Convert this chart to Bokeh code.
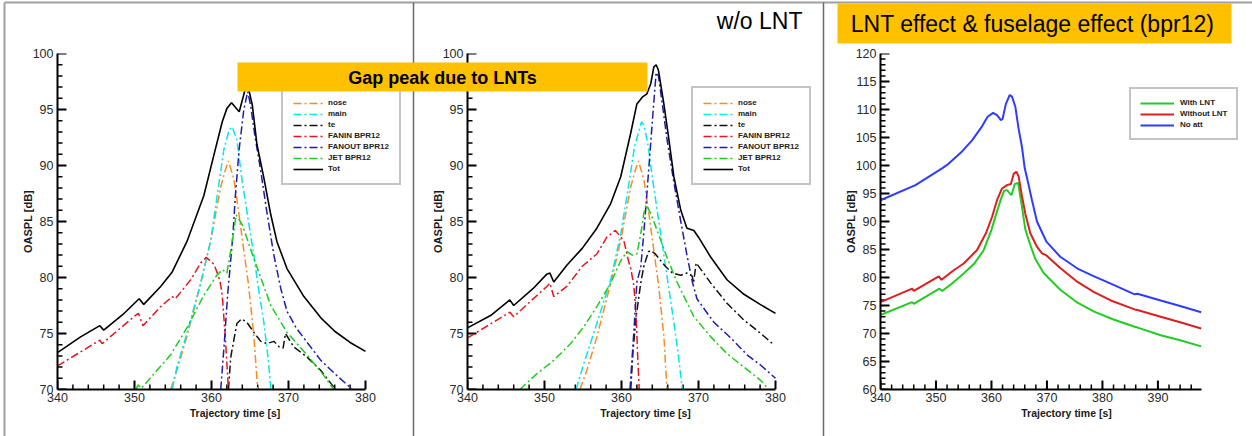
from bokeh.plotting import figure
from bokeh.models import (Range1d, SingleIntervalTicker, Legend, LegendItem, GridBox, Column)
from bokeh.core.properties import value
from bokeh.embed import file_html
from bokeh.resources import INLINE

# ---------------- data: panel 1 (with LNT) ----------------
nose_t1 = [354.7, 355.5, 356.8, 358.6, 359.9, 361.2, 361.8, 362.2, 362.9, 363.5, 364.2, 364.8, 365.5, 366.0]
nose_v1 = [70.0, 71.7, 74.7, 79.5, 83.3, 88.1, 89.6, 90.4, 88.8, 86.0, 82.4, 79.4, 74.8, 70.0]
main_t1 = [354.9, 355.5, 356.8, 358.6, 359.9, 360.9, 361.6, 362.3, 362.7, 363.3, 364.0, 364.8, 365.5, 366.1, 366.8, 367.4, 367.7]
main_v1 = [70.0, 72.0, 75.0, 79.5, 83.3, 88.1, 91.4, 93.2, 93.45, 92.3, 88.5, 85.0, 82.0, 79.0, 76.0, 72.5, 70.0]
te_t1 = [362.2, 362.5, 362.9, 363.3, 363.9, 364.6, 365.5, 366.4, 367.2, 368.1, 368.8, 369.3, 369.6, 370.7, 372.4, 374.2, 375.9, 376.1]
te_v1 = [70.0, 72.9, 74.4, 75.9, 76.3, 76.0, 75.1, 74.3, 74.1, 74.3, 73.8, 73.7, 75.0, 73.8, 72.9, 71.7, 70.2, 70.0]
fanin_t1 = [340.0, 345.5, 345.8, 350.1, 350.5, 351.1, 353.4, 354.9, 355.3, 357.3, 358.6, 359.3, 360.3, 360.7, 361.1, 361.4, 361.8, 362.2]
fanin_v1 = [72.1, 74.4, 74.1, 76.6, 76.8, 75.7, 77.4, 78.3, 78.1, 79.8, 81.3, 81.8, 81.2, 80.5, 79.7, 78.4, 74.6, 70.0]
fanout_t1 = [361.2, 361.7, 362.1, 362.4, 362.8, 363.1, 363.6, 364.2, 364.7, 365.1, 365.6, 366.4, 367.2, 368.1, 369.0, 369.8, 371.0, 372.2, 374.2, 376.2, 378.3]
fanout_v1 = [70.0, 74.5, 78.5, 80.8, 84.0, 87.3, 91.5, 95.0, 96.6, 95.3, 92.8, 89.5, 85.8, 82.0, 79.0, 77.0, 75.5, 74.4, 72.6, 71.3, 70.0]
jet_t1 = [350.1, 350.5, 350.9, 352.9, 354.7, 356.8, 359.0, 360.7, 361.4, 362.0, 362.7, 363.2, 364.0, 365.5, 367.7, 369.8, 372.0, 374.2, 375.9]
jet_v1 = [70.0, 70.4, 70.1, 71.7, 73.1, 75.5, 78.4, 80.2, 80.7, 80.4, 83.2, 85.6, 84.7, 81.7, 77.5, 75.1, 73.4, 71.6, 70.0]
tot_t1 = [340.0, 343.0, 345.5, 346.0, 348.5, 350.6, 351.2, 353.4, 354.9, 356.8, 359.0, 360.3, 361.4, 362.0, 362.6, 363.1,
          363.6, 364.3, 364.7, 365.3, 365.9, 366.8, 367.7, 368.5, 369.8, 372.0, 374.2, 376.0, 378.0, 380.0]
tot_v1 = [73.3, 74.7, 75.7, 75.3, 76.7, 78.1, 77.6, 79.2, 80.5, 83.2, 87.3, 90.9, 93.9, 95.1, 95.6, 95.2,
          94.8, 96.6, 97.2, 95.4, 91.9, 88.9, 85.6, 83.2, 80.8, 78.3, 76.4, 75.2, 74.2, 73.4]

# ---------------- data: panel 2 (w/o LNT) ----------------
nose_t2 = [354.6, 355.5, 356.8, 358.6, 359.9, 361.2, 361.8, 362.2, 362.9, 363.5, 364.2, 364.8, 365.5, 365.9]
nose_v2 = [70.0, 71.7, 74.7, 79.5, 83.3, 88.1, 89.6, 90.4, 88.8, 86.0, 82.4, 79.4, 74.8, 70.0]
main_t2 = [354.1, 355.1, 356.8, 358.6, 359.9, 360.9, 361.7, 362.6, 362.9, 363.4, 364.2, 365.5, 366.8, 367.4, 367.9]
main_v2 = [70.0, 72.3, 75.9, 79.8, 83.9, 88.1, 91.7, 93.9, 93.6, 92.0, 88.0, 82.0, 76.0, 73.0, 70.0]
te_t2 = [361.2, 361.5, 361.9, 362.5, 362.9, 363.5, 363.8, 364.4, 365.1, 365.7, 366.6, 367.7, 368.5, 369.2, 369.35,
         369.7, 371.6, 373.7, 375.9, 378.1, 379.6]
te_v2 = [70.0, 73.5, 76.5, 79.5, 81.0, 82.3, 82.4, 82.1, 81.5, 81.0, 80.4, 80.2, 80.4, 80.1, 79.5,
         81.3, 79.5, 77.7, 76.2, 75.0, 74.1]
fanin_t2 = [340.0, 345.5, 346.0, 350.3, 350.7, 351.2, 352.9, 354.9, 356.8, 358.1, 359.2, 360.3, 360.9, 361.2, 361.6,
            361.9, 362.1, 362.3]
fanin_v2 = [74.6, 76.9, 76.5, 79.2, 79.5, 78.3, 79.2, 81.0, 82.1, 83.6, 84.2, 83.3, 81.5, 80.8, 79.3,
            76.5, 73.0, 70.0]
fanout_t2 = [361.1, 361.6, 362.0, 362.5, 362.9, 363.3, 364.0, 364.5, 364.8, 365.3, 365.9, 366.8, 367.7, 368.5, 369.2,
             369.8, 372.0, 374.2, 376.3, 378.2, 380.0]
fanout_v2 = [70.0, 75.1, 79.6, 80.9, 84.0, 87.5, 93.9, 98.3, 98.0, 95.5, 92.4, 88.5, 85.0, 82.0, 79.6,
             78.1, 76.0, 74.6, 73.1, 72.1, 71.0]
jet_t2 = [346.8, 349.0, 351.2, 353.4, 355.1, 356.8, 358.6, 359.9, 360.7, 361.4, 362.0, 362.5, 362.9, 363.2, 363.8,
          364.8, 365.9, 367.2, 369.4, 371.6, 373.7, 375.9, 378.1, 379.1]
jet_v2 = [70.0, 71.4, 72.6, 74.1, 75.6, 77.4, 79.5, 81.5, 82.3, 82.0, 82.1, 83.9, 85.7, 86.5, 85.7,
          83.9, 81.8, 79.6, 76.5, 74.7, 73.2, 72.0, 70.8, 70.0]
tot_t2 = [340.0, 343.0, 345.5, 346.0, 348.5, 350.3, 350.7, 351.2, 352.9, 354.9, 356.8, 358.6, 359.9, 361.2, 362.0,
          362.7, 363.3, 363.8, 364.2, 364.5, 364.8, 365.5, 366.1, 366.8, 367.7, 368.5, 369.4, 370.0, 371.6,
          373.7, 375.9, 378.0, 380.0]
tot_v2 = [75.5, 76.6, 78.0, 77.5, 79.0, 80.3, 80.4, 79.6, 81.1, 82.6, 84.4, 86.6, 89.0, 92.9, 95.5,
          96.1, 96.4, 97.3, 98.8, 99.0, 98.5, 95.5, 92.6, 89.0, 86.0, 84.4, 84.2, 83.6, 81.8,
          79.8, 78.5, 77.6, 76.8]

# ---------------- data: panel 3 (LNT effect & fuselage effect) ----------------
with_t = [340.0, 345.7, 346.0, 350.6, 351.1, 353.0, 355.0, 357.0, 358.6, 360.0, 360.9, 361.7, 362.3, 362.8, 363.6,
          364.2, 364.8, 365.5, 366.1, 367.0, 367.9, 369.4, 372.4, 375.5, 378.5, 382.0, 385.8, 386.2, 390.5,
          394.0, 397.8]
with_v = [73.3, 75.6, 75.3, 78.0, 77.6, 79.0, 80.7, 82.6, 84.9, 88.5, 91.5, 94.0, 95.5, 95.6, 94.7,
          96.7, 96.9, 92.6, 88.6, 85.8, 83.3, 80.8, 77.8, 75.5, 73.9, 72.5, 71.2, 71.1, 69.7,
          68.8, 67.7]
without_t = [340.0, 345.7, 346.0, 350.5, 351.0, 353.2, 355.0, 357.4, 359.0, 360.1, 361.0, 361.9, 362.8, 363.5, 364.0,
             364.5, 364.9, 365.5, 366.1, 367.0, 368.2, 369.1, 369.8, 372.4, 375.5, 378.5, 381.5, 385.8, 386.3,
             390.5, 394.0, 397.8]
without_v = [75.6, 78.0, 77.6, 80.2, 79.6, 81.3, 82.5, 84.9, 87.9, 90.8, 93.8, 95.9, 96.5, 96.7, 98.5,
             98.9, 98.0, 94.5, 91.4, 87.9, 85.5, 84.3, 84.0, 81.7, 79.2, 77.4, 75.9, 74.3, 74.2,
             73.0, 72.0, 70.9]
noatt_t = [340.0, 346.3, 351.1, 352.0, 354.5, 356.5, 358.3, 359.3, 360.3, 361.0, 361.7, 362.0, 362.6, 363.3, 363.7,
           364.3, 364.9, 365.5, 366.0, 366.7, 367.3, 368.2, 369.0, 369.9, 372.4, 375.5, 378.5, 381.5, 385.8,
           386.3, 390.5, 394.0, 397.8]
noatt_v = [93.8, 96.5, 99.5, 100.1, 102.3, 104.5, 107.0, 108.7, 109.4, 109.0, 108.1, 108.3, 111.0, 112.6, 112.3,
           110.5, 106.5, 103.3, 99.5, 96.5, 93.8, 90.0, 88.3, 86.4, 83.7, 81.6, 80.2, 78.9, 77.0,
           77.1, 75.9, 74.9, 73.8]

# ---------------- axis ticks (Tecplot-style inward ticks) ----------------
x_major_12 = [340, 350, 360, 370, 380]
x_minor_12 = [t for t in range(340, 381, 2) if t % 10]
y_major_12 = [70, 75, 80, 85, 90, 95, 100]
y_minor_12 = [v for v in range(70, 101) if v % 5]
x_major_3 = [340, 350, 360, 370, 380, 390]
x_minor_3 = [t for t in range(340, 397, 2) if t % 10]
y_major_3 = [60, 65, 70, 75, 80, 85, 90, 95, 100, 105, 110, 115, 120]
y_minor_3 = [v for v in range(60, 121) if v % 5]

series_labels = ["nose", "main", "te", "FANIN BPR12", "FANOUT BPR12", "JET BPR12", "Tot"]
panel3_labels = ["With LNT", "Without LNT", "No att"]
x_label = "Trajectory time [s]"
y_label = "OASPL [dB]"
banner1_text = "Gap peak due to LNTs"
banner2_text = "LNT effect & fuselage effect (bpr12)"
subtitle_text = "w/o LNT"

FONT = "Liberation Sans"
DASHDOT = "8 3 2 3"
comp_colors = ["#ff8a1c", "#00e8f0", "#111111", "#e8141c", "#1c1cb0", "#1fcc1f", "#000000"]
p3_colors = ["#22cc22", "#dd1f1f", "#2f3cff"]
FRAME_H = 336
MAJOR_LEN = 9
MINOR_LEN = 5


def base_panel(width, left, frame_w, xr, yr, bounds, xmaj, xmin, ymaj, ymin):
    # the frame reaches the right edge of the figure, so that legends can sit beyond the axis end
    p = figure(width=width, height=436, frame_width=frame_w, frame_height=FRAME_H,
               x_range=Range1d(*xr), y_range=Range1d(*yr),
               output_backend="svg", toolbar_location=None,
               min_border_left=left, min_border_right=0, min_border_top=53, min_border_bottom=47)
    p.background_fill_color = None
    p.border_fill_color = None
    p.outline_line_color = None
    p.xgrid.visible = False
    p.ygrid.visible = False
    p.xaxis.ticker = SingleIntervalTicker(interval=10, num_minor_ticks=5)
    p.yaxis.ticker = SingleIntervalTicker(interval=5, num_minor_ticks=5)
    p.xaxis.bounds = bounds
    for ax in (p.xaxis[0], p.yaxis[0]):
        ax.axis_line_width = 2
        ax.axis_line_color = "#000000"
        ax.major_tick_in = 0
        ax.major_tick_out = 0
        ax.minor_tick_in = 0
        ax.minor_tick_out = 0
        ax.major_label_text_font = FONT
        ax.major_label_text_font_size = "12.5px"
        ax.major_label_text_color = "#2a2a2a"
        ax.axis_label_text_font = FONT
        ax.axis_label_text_font_style = "bold"
        ax.axis_label_text_color = "#1a1a1a"
    p.xaxis.axis_label = x_label
    p.xaxis.axis_label_text_font_size = "10.5px"
    p.xaxis.major_label_standoff = 3
    p.xaxis.axis_label_standoff = 2
    p.yaxis.axis_label = y_label
    p.yaxis.axis_label_text_font_size = "11px"
    p.yaxis.major_label_standoff = 4
    p.yaxis.axis_label_standoff = -4
    # inward tick marks drawn as segments from the axis lines into the frame
    x0, y0 = xr[0], yr[0]
    dx = (xr[1] - xr[0]) / frame_w      # data units per pixel
    dy = (yr[1] - yr[0]) / FRAME_H
    p.segment(x0=xmaj, y0=[y0] * len(xmaj), x1=xmaj, y1=[y0 + MAJOR_LEN * dy] * len(xmaj),
              line_color="#000000", line_width=2)
    p.segment(x0=xmin, y0=[y0] * len(xmin), x1=xmin, y1=[y0 + MINOR_LEN * dy] * len(xmin),
              line_color="#000000", line_width=1.5)
    p.segment(x0=[x0] * len(ymaj), y0=ymaj, x1=[x0 + MAJOR_LEN * dx] * len(ymaj), y1=ymaj,
              line_color="#000000", line_width=2)
    p.segment(x0=[x0] * len(ymin), y0=ymin, x1=[x0 + MINOR_LEN * dx] * len(ymin), y1=ymin,
              line_color="#000000", line_width=1.5)
    return p


PX_PER_S = 308 / 40.0


def component_panel(width, left, data):
    frame_w = width - left
    p = base_panel(width, left, frame_w, (340, 340 + frame_w / PX_PER_S), (70, 100), (340, 380),
                   x_major_12, x_minor_12, y_major_12, y_minor_12)
    items = []
    for (t, v), lab, col in zip(data, series_labels, comp_colors):
        if lab == "Tot":
            r = p.line(t, v, line_color=col, line_width=1.6)
        else:
            r = p.line(t, v, line_color=col, line_width=1.5, line_dash=DASHDOT)
        items.append(LegendItem(label=lab, renderers=[r]))
    leg = Legend(items=items, location=(224, 204), orientation="vertical",
                 label_text_font=FONT, label_text_font_size="8px", label_text_font_style="bold",
                 label_text_color="#222222", glyph_width=30, glyph_height=8, label_height=8,
                 label_standoff=5, padding=10, spacing=2, margin=0,
                 border_line_color="#8a8a8a", border_line_width=2, background_fill_color="white")
    p.add_layout(leg)
    return p


p1 = component_panel(412, 57, [(nose_t1, nose_v1), (main_t1, main_v1), (te_t1, te_v1), (fanin_t1, fanin_v1),
                               (fanout_t1, fanout_v1), (jet_t1, jet_v1), (tot_t1, tot_v1)])
p2 = component_panel(411, 55, [(nose_t2, nose_v2), (main_t2, main_v2), (te_t2, te_v2), (fanin_t2, fanin_v2),
                               (fanout_t2, fanout_v2), (jet_t2, jet_v2), (tot_t2, tot_v2)])

PX_PER_S3 = 320.7 / 57.8
p3 = base_panel(429, 57, 372, (340, 340 + 372 / PX_PER_S3), (60, 120), (340, 397.8),
                x_major_3, x_minor_3, y_major_3, y_minor_3)
items3 = []
for (t, v), lab, col in zip([(with_t, with_v), (without_t, without_v), (noatt_t, noatt_v)], panel3_labels, p3_colors):
    r = p3.line(t, v, line_color=col, line_width=2)
    items3.append(LegendItem(label=lab, renderers=[r]))
leg3 = Legend(items=items3, location=(249, 249), orientation="vertical",
              label_text_font=FONT, label_text_font_size="8px", label_text_font_style="bold",
              label_text_color="#222222", glyph_width=34, glyph_height=8, label_height=8,
              label_standoff=6, padding=9, spacing=2, margin=0,
              border_line_color="#8a8a8a", border_line_width=2, background_fill_color="white")
p3.add_layout(leg3)

# ---------------- overlay (page decorations, banners) ----------------
ov = figure(width=1252, height=436, x_range=Range1d(0, 1252), y_range=Range1d(436, 0),
            output_backend="svg", toolbar_location=None, x_axis_location=None, y_axis_location=None,
            min_border_left=0, min_border_right=0, min_border_top=0, min_border_bottom=0)
ov.background_fill_color = None
ov.border_fill_color = None
ov.outline_line_color = None
ov.xgrid.visible = False
ov.ygrid.visible = False
ov.segment(x0=[4, 4], y0=[2, 2], x1=[1252, 4], y1=[2, 436], line_color="#a0a0a0", line_width=2)
ov.segment(x0=[413, 823], y0=[2, 2], x1=[413, 823], y1=[436, 436], line_color="#6a6a6a", line_width=1.5)
ov.quad(left=[237, 837], right=[647, 1231], top=[62, 3], bottom=[91, 43], fill_color="#ffc000", line_color=None)
ov.text(x=[442], y=[77], text=[banner1_text], text_font=value(FONT), text_font_size="18px",
        text_font_style="bold", text_align="center", text_baseline="middle", text_color="#000000")
ov.text(x=[1032], y=[23], text=[banner2_text], text_font=value(FONT), text_font_size="23px",
        text_align="center", text_baseline="middle", text_color="#000000")
ov.text(x=[802], y=[20], text=[subtitle_text], text_font=value(FONT), text_font_size="23px",
        text_align="right", text_baseline="middle", text_color="#000000")

ov_box = Column(children=[ov], width=1252, height=436)

layout = GridBox(children=[(p1, 0, 0), (p2, 0, 1), (p3, 0, 2), (ov_box, 0, 0, 1, 3)], spacing=0)

open("out.html", "w").write(file_html(layout, INLINE))
